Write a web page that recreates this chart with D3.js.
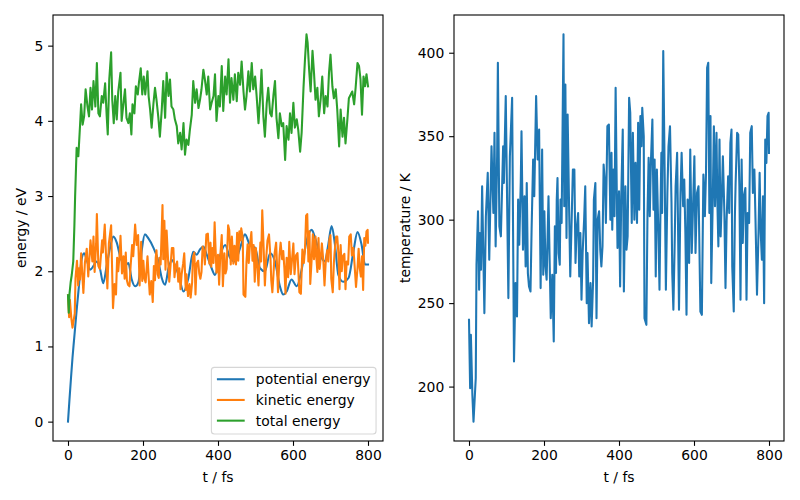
<!DOCTYPE html>
<html><head><meta charset="utf-8">
<script src="https://cdn.jsdelivr.net/npm/d3@7"></script>
<style>body{margin:0;background:#fff} svg{display:block} text{font-family:"DejaVu Sans",sans-serif}</style>
</head><body><svg id="c" width="800" height="500"></svg>
<script>
// ---- data ----
const seriesNames = ["potential energy", "kinetic energy", "total energy"];
const xTicks = [0, 200, 400, 600, 800];
const energyTicks = [0, 1, 2, 3, 4, 5];
const tempTicks = [200, 250, 300, 350, 400];

const peTimes = [0,4,8,12,16,19,23,27,32,36,43,50,59,68,76,85,94,103,112,121,130,139,152,161,170,179,188,197,205,214,228,241,250,259,268,277,286,295,308,321,334,343,352,361,370,383,392,405,419,432,445,459,472,485,499,512,525,539,552,565,574,583,596,610,623,636,650,659,672,685,694,703,712,721,734,748,761,772,783,792,800];
const potentialEnergy = [0.00,0.30,0.58,0.85,1.08,1.25,1.48,1.69,1.95,2.15,2.24,2.15,2.02,2.07,2.13,2.04,1.84,2.07,2.31,2.46,2.38,2.20,2.07,2.11,1.89,1.80,1.86,2.29,2.49,2.44,2.31,2.13,1.91,1.82,2.04,2.15,2.07,1.95,1.73,1.91,2.26,2.22,2.29,2.33,2.22,2.04,1.95,2.20,2.35,2.18,2.13,2.31,2.49,2.35,2.31,2.04,2.00,2.24,2.13,1.80,1.69,1.73,1.89,1.80,2.02,2.40,2.55,2.44,2.22,2.13,2.35,2.60,2.35,1.95,1.86,1.91,2.26,2.52,2.35,2.09,2.09];

const fastTimes = [0,3,5,9,12,18,20,24,27,29,32,35,41,45,50,54,60,65,68,71,75,77,81,85,91,93,98,105,109,115,120,124,128,131,134,138,140,144,148,151,154,157,160,164,167,171,174,179,183,187,191,195,198,201,204,207,212,215,218,222,226,229,232,234,236,239,242,244,247,252,254,257,260,263,267,270,274,277,281,284,287,291,294,297,300,303,307,310,314,316,320,324,327,331,333,337,340,343,347,350,353,356,359,363,365,369,373,377,380,382,385,388,391,394,396,400,403,406,410,413,417,420,423,427,430,434,437,441,444,448,451,454,457,460,462,466,468,473,476,479,482,485,489,492,495,498,501,505,508,510,513,515,518,522,525,529,532,536,540,542,545,548,551,555,557,560,564,567,571,574,577,580,583,587,590,594,597,601,604,608,612,617,621,625,629,632,635,638,641,644,646,650,653,656,660,662,665,668,671,674,677,681,684,687,691,694,697,700,702,706,709,711,715,718,721,724,727,730,733,737,740,743,747,750,754,757,761,764,768,772,775,778,781,784,787,790,793,796,799,800];
const temperature = [240,199,231,195,179,205,273,305,258,292,270,320,244,302,328,276,344,304,352,284,338,394,296,290,344,322,374,253,338,373,215,262,242,312,285,322,353,282,314,272,322,268,260,257,295,336,314,374,336,354,259,342,267,305,272,264,314,276,241,267,227,296,268,312,325,280,273,312,298,411,308,381,289,363,306,266,302,330,330,274,294,304,266,292,252,280,300,320,250,280,238,262,236,264,312,322,241,300,305,282,272,284,333,320,298,356,357,300,340,294,330,302,379,318,283,317,260,314,354,257,320,282,290,373,364,298,352,300,334,298,358,306,362,344,367,350,241,237,304,337,302,334,360,306,336,266,330,292,258,296,340,304,401,324,258,316,344,356,310,268,246,280,320,340,304,246,316,340,308,324,292,243,312,274,342,280,304,338,280,316,320,245,243,327,302,328,391,394,304,362,262,312,356,308,352,314,284,348,290,312,338,304,259,300,326,304,346,354,272,245,302,322,352,351,320,252,336,286,314,319,252,304,298,352,356,316,330,300,255,292,328,292,276,314,250,348,334,362,364,340];
const kineticEnergy = [1.68,1.39,1.62,1.37,1.25,1.44,1.91,2.14,1.81,2.04,1.89,2.24,1.71,2.11,2.30,1.93,2.41,2.13,2.46,1.99,2.37,2.76,2.07,2.03,2.41,2.25,2.62,1.77,2.37,2.61,1.51,1.83,1.69,2.18,2.00,2.25,2.47,1.97,2.20,1.90,2.25,1.88,1.82,1.80,2.07,2.35,2.20,2.62,2.35,2.48,1.81,2.39,1.87,2.14,1.90,1.85,2.20,1.93,1.69,1.87,1.59,2.07,1.88,2.18,2.28,1.96,1.91,2.18,2.09,2.88,2.16,2.67,2.02,2.54,2.14,1.86,2.11,2.31,2.31,1.92,2.06,2.13,1.86,2.04,1.76,1.96,2.10,2.24,1.75,1.96,1.67,1.83,1.65,1.85,2.18,2.25,1.69,2.10,2.14,1.97,1.90,1.99,2.33,2.24,2.09,2.49,2.50,2.10,2.38,2.06,2.31,2.11,2.65,2.23,1.98,2.22,1.82,2.20,2.48,1.80,2.24,1.97,2.03,2.61,2.55,2.09,2.46,2.10,2.34,2.09,2.51,2.14,2.53,2.41,2.57,2.45,1.69,1.66,2.13,2.36,2.11,2.34,2.52,2.14,2.35,1.86,2.31,2.04,1.81,2.07,2.38,2.13,2.81,2.27,1.81,2.21,2.41,2.49,2.17,1.88,1.72,1.96,2.24,2.38,2.13,1.72,2.21,2.38,2.16,2.27,2.04,1.70,2.18,1.92,2.39,1.96,2.13,2.37,1.96,2.21,2.24,1.72,1.70,2.29,2.11,2.30,2.74,2.76,2.13,2.53,1.83,2.18,2.49,2.16,2.46,2.20,1.99,2.44,2.03,2.18,2.37,2.13,1.81,2.10,2.28,2.13,2.42,2.48,1.90,1.72,2.11,2.25,2.46,2.46,2.24,1.76,2.35,2.00,2.20,2.23,1.76,2.13,2.09,2.46,2.49,2.21,2.31,2.10,1.79,2.04,2.30,2.04,1.93,2.20,1.75,2.44,2.34,2.53,2.55,2.38];

const totTimes = [0,2,4,7,10,14,17,19,23,27.6,32,35,39,43,47,52,56,60,64,68,73,77,81,85,90,94,99,103,106,110,115,118,122,126,130,134,140,143,148,152,156,161,165,169,172,177,181,186,189,194,198,202,206,212,215,219,223,228,232,236,241,245,250,254,259,263,268,272,276,281,285,290,294,299,303,308,312,316,321,325,330,334,339,343,348,352,356,361,365,370,374,379,383,388,392,396,401,405,410,414,419,423,428,432,436,441,445,450,454,459,463,468,472,476,481,485,490,494,499,503,508,512,516,521,525,530,534,539,543,548,552,556,561,565,570,574,579,583,588,592,596,601,605,610,614,619,623,628,632,636,639,643,647,652,656,660,665,669,674,678,683,687,692,696,700,705,709,714,718,723,727,732,736,740,745,749,754,758,763,767,772,776,780,784,788,792,796,800];
const totalEnergy = [1.68,1.45,1.70,1.85,1.95,2.13,2.60,3.00,3.64,3.53,3.93,4.22,3.95,4.06,4.42,4.19,4.06,4.44,4.15,4.53,4.19,4.77,4.10,4.06,4.33,4.24,4.50,4.08,3.82,4.55,4.91,4.28,3.97,4.33,4.02,4.39,4.64,4.00,4.24,4.42,4.04,3.97,4.10,3.82,4.22,4.10,4.46,4.35,4.50,4.70,4.35,4.59,4.35,4.66,4.33,4.15,3.91,4.24,4.44,4.28,4.04,3.79,4.15,4.53,4.04,4.64,4.33,4.55,4.19,4.15,4.02,3.93,3.70,3.84,3.62,3.97,3.55,3.75,3.68,3.88,4.08,4.53,4.24,4.42,4.17,4.28,4.42,4.68,4.55,4.35,4.59,4.15,4.24,4.33,4.62,4.00,4.33,4.19,4.73,4.13,4.59,4.35,4.82,4.24,4.57,4.28,4.62,4.26,4.64,4.48,4.79,4.39,4.15,4.33,4.66,4.39,4.77,4.42,4.59,4.33,3.97,4.28,4.68,4.06,3.79,4.24,4.44,4.10,4.06,4.35,4.53,4.04,3.77,4.10,3.93,3.97,3.48,3.93,3.75,4.10,3.84,4.24,3.91,4.02,3.88,3.59,3.84,4.44,4.82,5.15,5.04,4.68,4.39,4.93,4.64,4.28,4.44,4.06,4.30,4.59,4.10,4.33,4.19,4.64,4.88,4.46,4.30,4.42,4.15,3.66,4.15,3.79,4.04,3.70,4.02,4.30,4.35,4.39,4.22,4.44,4.77,4.73,4.55,4.08,4.59,4.46,4.62,4.46];

// ---- drawing ----
const colors = ["#1f77b4", "#ff7f0e", "#2ca02c"];
const FS = 13.9, TICK = 4.86, LW = 2.08;
const svg = d3.select("#c");
const axTop = 15, axBot = 441;

function padded(lo, hi) { const r = hi - lo; return [lo - 0.05 * r, hi + 0.05 * r]; }

function makePanel(L, R, yDom, yTicks, yFmt, xLabel, yLabel, yLabelX) {
  const x = d3.scaleLinear().domain(padded(0, 800)).range([L, R]);
  const y = d3.scaleLinear().domain(yDom).range([axBot, axTop]);
  const g = svg.append("g");
  const clipId = "clip" + L;
  svg.append("clipPath").attr("id", clipId).append("rect")
    .attr("x", L).attr("y", axTop).attr("width", R - L).attr("height", axBot - axTop);
  const plot = g.append("g").attr("clip-path", `url(#${clipId})`);
  const xa = g.append("g").attr("transform", `translate(0,${axBot})`)
    .call(d3.axisBottom(x).tickValues(xTicks).tickSize(TICK).tickPadding(4.3).tickFormat(d3.format("d")));
  const ya = g.append("g").attr("transform", `translate(${L},0)`)
    .call(d3.axisLeft(y).tickValues(yTicks).tickSize(TICK).tickPadding(4.9).tickFormat(yFmt));
  [xa, ya].forEach(a => {
    a.select(".domain").remove();
    a.attr("font-size", null).attr("font-family", null);
    a.selectAll("line").attr("stroke", "#000").attr("stroke-width", 1.1);
    a.selectAll("text").attr("fill", "#000").style("font-size", FS + "px");
  });
  g.append("rect").attr("x", L).attr("y", axTop).attr("width", R - L).attr("height", axBot - axTop)
    .attr("fill", "none").attr("stroke", "#000").attr("stroke-width", 1.1);
  g.append("text").attr("x", (L + R) / 2).attr("y", 482).attr("text-anchor", "middle")
    .style("font-size", FS + "px").text(xLabel);
  g.append("text").attr("transform", `translate(${yLabelX},${(axTop + axBot) / 2}) rotate(-90)`)
    .attr("text-anchor", "middle").attr("dy", "0.35em").style("font-size", FS + "px").text(yLabel);
  return { x, y, plot, g };
}

function drawLine(p, times, vals, color, curve) {
  const line = d3.line().x((d, i) => p.x(times[i])).y(d => p.y(d)).curve(curve || d3.curveLinear);
  p.plot.append("path").datum(vals).attr("d", line).attr("fill", "none")
    .attr("stroke", color).attr("stroke-width", LW).attr("stroke-linejoin", "round").attr("stroke-linecap", "square");
}

// left panel
const eMin = d3.min([...potentialEnergy, ...kineticEnergy, ...totalEnergy]);
const eMax = d3.max([...potentialEnergy, ...kineticEnergy, ...totalEnergy]);
const left = makePanel(53, 383, padded(eMin, eMax), energyTicks, d3.format("d"), "t / fs", "energy / eV", 21);
drawLine(left, peTimes, potentialEnergy, colors[0], d3.curveMonotoneX);
drawLine(left, fastTimes, kineticEnergy, colors[1]);
drawLine(left, totTimes, totalEnergy, colors[2]);

// right panel
const right = makePanel(454, 784, padded(d3.min(temperature), d3.max(temperature)), tempTicks, d3.format("d"), "t / fs", "temperature / K", 405);
drawLine(right, fastTimes, temperature, colors[0]);

// legend (lower right of left panel)
const lg = left.g.append("g");
const frame = lg.append("rect");
const texts = seriesNames.map((n, i) => lg.append("text").style("font-size", FS + "px").text(n));
const tw = d3.max(texts, t => t.node().getComputedTextLength());
const pad = 0.4 * FS, hl = 2 * FS, htp = 0.8 * FS, rowH = 20.7;
const W = pad * 2 + hl + htp + tw, H = 66.7;
const lx = 383 - 0.5 * FS - W, ly = axBot - 0.5 * FS - H;
frame.attr("x", lx).attr("y", ly).attr("width", W).attr("height", H).attr("rx", 3)
  .attr("fill", "rgba(255,255,255,0.8)").attr("stroke", "rgba(204,204,204,0.8)").attr("stroke-width", 1.1);
seriesNames.forEach((n, i) => {
  const cy = ly + 11.9 + i * rowH;
  lg.append("line").attr("x1", lx + 5.5).attr("x2", lx + 5.5 + hl).attr("y1", cy).attr("y2", cy)
    .attr("stroke", colors[i]).attr("stroke-width", LW);
  texts[i].attr("x", lx + 5.5 + hl + htp).attr("y", cy).attr("dy", "0.35em");
});
</script></body></html>
